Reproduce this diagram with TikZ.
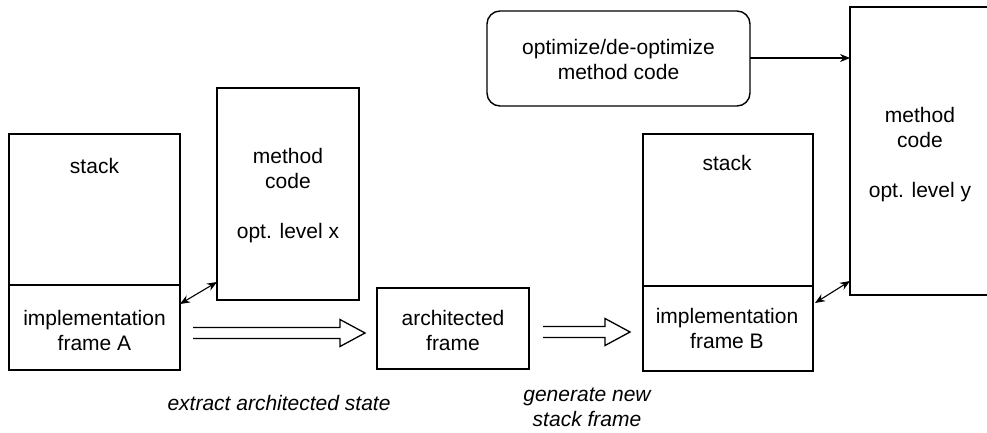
\documentclass[tikz,border=0pt]{standalone}
\usepackage{fontspec}
\setmainfont{Liberation Sans}
\usetikzlibrary{arrows.meta,calc}
\tikzset{
  box/.style={draw, line width=1.4pt, inner sep=0pt, outer sep=0pt},
  lbl/.style={inner sep=0pt, align=center, font=\fontsize{21}{25}\selectfont},
  ilbl/.style={lbl, font=\fontsize{21}{25}\selectfont\itshape},
  dbl/.style={{Stealth[length=10pt,width=8pt]}-{Stealth[length=10pt,width=8pt]}, line width=1.1pt},
  sarrow/.style={-{Stealth[length=10pt,width=8pt]}, line width=1.1pt},
  hollow/.style={line width=1.3pt, line join=miter}
}
\begin{document}
\begin{tikzpicture}[x=1pt,y=-1pt]
\clip (0,0) rectangle (987,432);
\fill[white] (0,0) rectangle (987,432);

% left stack A
\node[box, minimum width=171pt, minimum height=151pt] (stackA) at (94.5,209.5) {};
\node[box, minimum width=171pt, minimum height=85pt] (implA) at (94.5,327.5) {};
\node[lbl] (stackAt) at (94.5,166) {stack};
\node[lbl] (implAt) at (94.5,330.5) {implementation\\frame A};

% method code A
\node[box, minimum width=142pt, minimum height=212pt] (mcA) at (288,194) {};
\node[lbl] (mcAt) at (288,195.5) {method\\code\\[25pt]opt. level x};

% architected frame
\node[box, minimum width=152pt, minimum height=81pt] (arch) at (453,328.5) {};
\node[lbl] (archt) at (453,330) {architected\\frame};

% right stack B
\node[box, minimum width=170pt, minimum height=152pt] (stackB) at (728,210) {};
\node[box, minimum width=170pt, minimum height=85pt] (implB) at (728,328.5) {};
\node[lbl] (stackBt) at (727,163) {stack};
\node[lbl] (implBt) at (727,328.5) {implementation\\frame B};

% method code B
\node[box, minimum width=140pt, minimum height=288pt] (mcB) at (920,151) {};
\node[lbl] (mcBt) at (920,155) {method\\code\\[25pt]opt. level y};

% optimize box
\node[box, rounded corners=13pt, minimum width=263pt, minimum height=95pt] (opt) at (618.5,58.5) {};
\node[lbl] (optt) at (618.5,59.5) {optimize/de-optimize\\method code};

% arrows
\draw[sarrow] (opt.east |- 0,58) -- (mcB.west |- 0,58);
\draw[dbl] ($(implA.north east)+(0,19)$) -- ($(mcA.south west)+(0,-18)$);
\draw[dbl] ($(implB.north east)+(2,17)$) -- ($(mcB.south west)+(0,-14)$);

% hollow arrows
\coordinate (h1) at ($(implA.east)+(13,5.5)$);
\draw[hollow] ($(h1)+(0,-5.5)$) -- ++(147,0) -- ++(0,-8) -- ($(arch.west)+(-12,4.5)$) -- ($(h1)+(147,13.5)$) -- ++(0,-8) -- ($(h1)+(0,5.5)$);
\coordinate (h2) at ($(arch.east)+(14,3.5)$);
\draw[hollow] ($(h2)+(0,-5.5)$) -- ++(62,0) -- ++(0,-8) -- ($(implB.west)+(-13,3.5)$) -- ($(h2)+(62,13.5)$) -- ++(0,-8) -- ($(h2)+(0,5.5)$);

% captions
\node[ilbl] (cap1) at (279,403) {extract architected state};
\node[ilbl] (cap2) at (587,407.5) {generate new\\stack frame};
\end{tikzpicture}
\end{document}
